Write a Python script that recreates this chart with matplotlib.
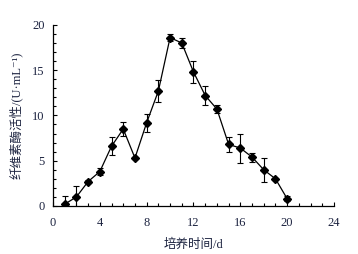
import matplotlib
matplotlib.use("Agg")
import matplotlib.pyplot as plt
from matplotlib.ticker import MultipleLocator

days = [1, 2, 3, 4, 5, 6, 7, 8, 9, 10, 11, 12, 13, 14, 15, 16, 17, 18, 19, 20]
activity = [0.2, 1.0, 2.7, 3.8, 6.6, 8.5, 5.3, 9.2, 12.7, 18.6, 18.0, 14.8, 12.2, 10.7, 6.8, 6.4, 5.4, 4.0, 3.0, 0.8]
errors = [0.9, 1.2, 0.15, 0.4, 1.0, 0.8, 0.1, 1.0, 1.2, 0.4, 0.5, 1.2, 1.1, 0.4, 0.8, 1.6, 0.5, 1.3, 0.1, 0.3]
xticks = [0, 4, 8, 12, 16, 20, 24]
yticks = [0, 5, 10, 15, 20]
xlabel = "培养时间/d"
ylabel = "纤维素酶活性/(U·mL⁻¹)"

fams = ['Liberation Serif', 'Noto Sans CJK SC', 'DejaVu Serif']
plt.rcParams['font.family'] = fams

txtc = '#1c2340'
fig = plt.figure(figsize=(3.58, 2.54), dpi=100)
ax = fig.add_axes([0.148, 0.189, 0.785, 0.713])
ax.errorbar(days, activity, yerr=errors, color='black', lw=0.9, marker='D',
            ms=4.2, elinewidth=0.8, capsize=2.2, capthick=0.8)
ax.set_xlim(0, 24)
ax.set_ylim(0, 20)
ax.set_xticks(xticks)
ax.set_yticks(yticks)
ax.xaxis.set_minor_locator(MultipleLocator(1))
ax.yaxis.set_minor_locator(MultipleLocator(1))
ax.tick_params(which='both', direction='in', labelsize=9, labelcolor=txtc, width=0.8)
ax.tick_params(which='major', length=3)
ax.tick_params(which='minor', length=2)
ax.tick_params(axis='x', pad=8)
ax.tick_params(axis='y', pad=6)
ax.spines['top'].set_visible(False)
ax.spines['right'].set_visible(False)
ax.spines['left'].set_linewidth(0.9)
ax.spines['bottom'].set_linewidth(0.9)
ax.set_xlabel(xlabel, fontsize=9, color=txtc, labelpad=7, family=fams)
ax.set_ylabel(ylabel, fontsize=9, color=txtc, labelpad=7, family=fams)
fig.savefig("out.png", dpi=100)
